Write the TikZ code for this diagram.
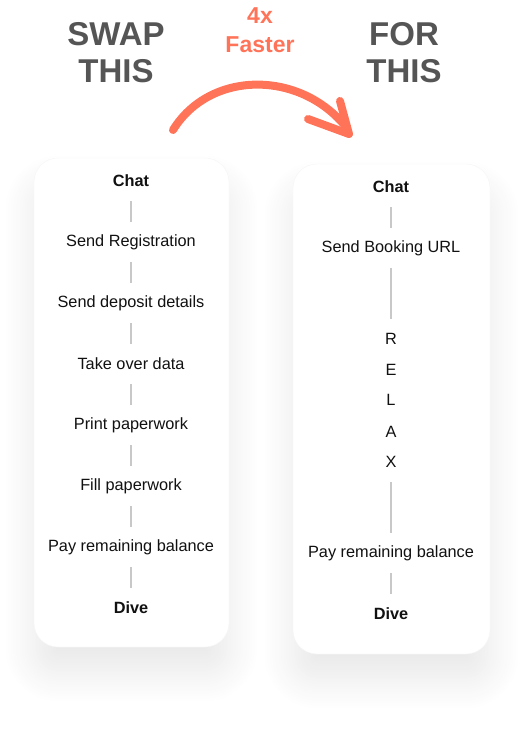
\documentclass[tikz,border=0pt]{standalone}
\usepackage{fontspec}
\setmainfont{Liberation Sans}
\usepackage{tikz}
\usetikzlibrary{positioning,calc,shadows.blur}

\definecolor{headgray}{HTML}{555555}
\definecolor{accent}{HTML}{FF7459}
\definecolor{linkgray}{HTML}{C8C8C8}
\definecolor{txt}{HTML}{111111}

\begin{document}
\begin{tikzpicture}[
  x=1pt, y=-1pt,
  card/.style={
    rectangle, draw=black!4, fill=white, rounded corners=24pt,
    blur shadow={shadow xshift=0pt, shadow yshift=-26pt,
      shadow blur radius=30pt, shadow blur steps=24, shadow opacity=9}
  },
  stepbox/.style={font=\fontsize{16.3}{19}\selectfont, text=txt,
    minimum height=40pt, inner sep=0pt},
  endbox/.style={stepbox, font=\fontsize{16.3}{19}\selectfont\bfseries},
  head/.style={font=\fontsize{33}{37}\selectfont\bfseries, text=headgray,
    align=center},
  link/.style={draw=linkgray, line width=1.6pt}
]
\useasboundingbox (0,0) rectangle (524,730);

% -- Titles --
\node[head] (swap) at (116,53) {SWAP\\THIS};
\node[head] (for)  at (404,53) {FOR\\THIS};
\node[font=\fontsize{23}{29}\selectfont\bfseries, text=accent, align=center]
     (faster) at (260,30) {4x\\Faster};

% -- Arrow --
\coordinate (a0) at (173,130);
\coordinate (a1) at (346,127);
\coordinate (h1) at (308,119);
\coordinate (h2) at (340,101);
\coordinate (tip) at (349,134);
\draw[accent, line width=8pt, line cap=round]
  (a0) .. controls (210,70) and (300,70) .. (a1);
\draw[accent, line width=8pt, line cap=round, line join=round]
  (h1) -- (tip) -- (h2);

% -- Cards --
\node[card, minimum width=195pt, minimum height=489pt] (left)  at (131.5,402.5) {};
\node[card, minimum width=197pt, minimum height=490pt] (right) at (391.5,409) {};

% -- Left steps --
\node[endbox]  (l1) at (131,181) {Chat};
\node[stepbox] (l2) at (131,242) {Send Registration};
\node[stepbox] (l3) at (131,303) {Send deposit details};
\node[stepbox] (l4) at (131,364) {Take over data};
\node[stepbox] (l5) at (131,425) {Print paperwork};
\node[stepbox] (l6) at (131,486) {Fill paperwork};
\node[stepbox] (l7) at (131,547) {Pay remaining balance};
\node[endbox]  (l8) at (131,608) {Dive};

\foreach \a/\b in {l1/l2,l2/l3,l3/l4,l4/l5,l5/l6,l6/l7,l7/l8}
  \draw[link] (\a) -- (\b);

% -- Right steps --
\node[endbox]  (r1) at (391,187) {Chat};
\node[stepbox] (r2) at (391,248) {Send Booking URL};
\node[stepbox] (rR) at (391,339) {R};
\node[stepbox] (rE) at (391,370) {E};
\node[stepbox] (rL) at (391,400) {L};
\node[stepbox] (rA) at (391,432) {A};
\node[stepbox] (rX) at (391,462) {X};
\node[stepbox] (r3) at (391,553) {Pay remaining balance};
\node[endbox]  (r4) at (391,614) {Dive};

\draw[link] (r1) -- (r2);
\draw[link] (r2) -- (rR);
\draw[link] (rX) -- (r3);
\draw[link] (r3) -- (r4);

\end{tikzpicture}
\end{document}
